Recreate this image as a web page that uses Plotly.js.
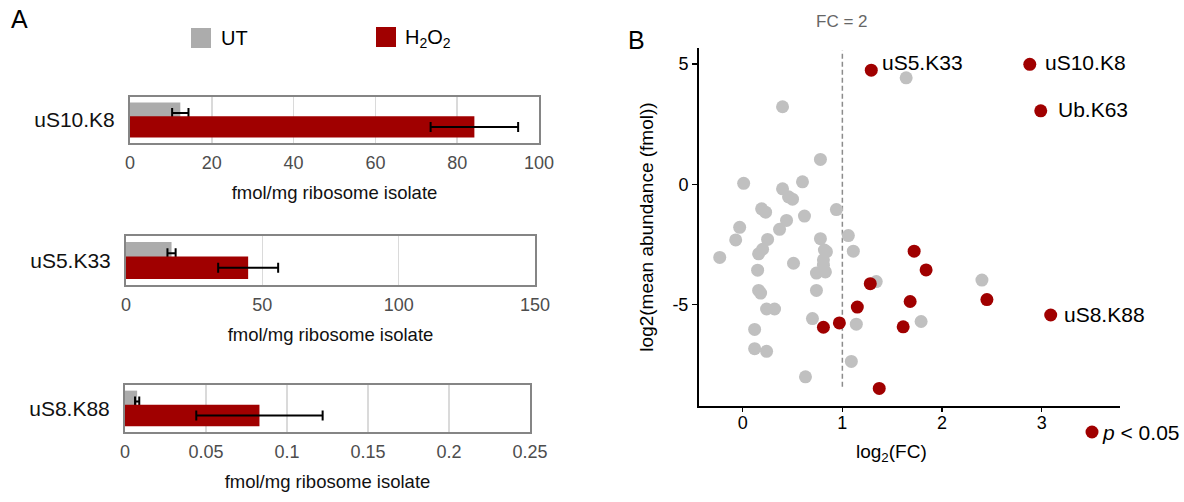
<!DOCTYPE html>
<html>
<head>
<meta charset="utf-8">
<script src="https://cdn.plot.ly/plotly-3.0.1.min.js"></script>
<style>
  html, body { margin: 0; padding: 0; background: #fff; }
  #chart { width: 1184px; height: 502px; }
</style>
</head>
<body>
<div id="chart"></div>
<script>
// ---------------- Panel A data ----------------
const sites      = ['uS10.K8', 'uS5.K33', 'uS8.K88'];
const utMean     = [12.3, 16.7, 0.0075];
const utErr      = [2.0, 1.5, 0.0013];
const h2o2Mean   = [84.2, 44.8, 0.083];
const h2o2Err    = [10.7, 11.0, 0.039];
const axisMax    = [100, 150, 0.25];
const axisStep   = [20, 50, 0.05];
const groupNames = ['UT', 'H<sub>2</sub>O<sub>2</sub>'];

// ---------------- Panel B data ----------------
const grayX = [0.78, 0.01, 0.60, 0.40, 0.46, 0.50, 0.19, 0.23, 0.94, 0.62,
               0.44, -0.03, 0.37, -0.07, 0.25, 0.78, 1.06, 0.20, 0.16, 0.82,
               0.84, 1.11, -0.23, 0.81, 0.51, 0.15, 0.74, 0.83, 1.34, 0.16,
               0.18, 0.74, 0.24, 0.32, 0.70, 1.14, 0.12, 0.12, 0.24, 1.09,
               0.63, 2.40, 1.79, 1.64, 0.40, 0.81];
const grayY = [1.03, 0.04, 0.10, -0.19, -0.52, -0.62, -1.02, -1.16, -1.05, -1.32,
               -1.50, -1.79, -1.87, -2.31, -2.29, -2.26, -2.13, -2.70, -2.89, -2.73,
               -2.80, -2.78, -3.04, -3.14, -3.28, -3.57, -3.69, -3.64, -4.04, -4.41,
               -4.52, -4.41, -5.18, -5.18, -5.58, -5.81, -6.03, -6.83, -6.94, -7.36,
               -8.00, -3.98, -5.70, 4.42, 3.22, -3.36];
const sigX = [1.29, 2.88, 2.99, 3.09, 1.72, 1.84, 1.28, 1.68, 2.45, 1.15, 0.97, 0.81, 1.61, 1.37];
const sigY = [4.74, 4.98, 3.05, -5.43, -2.78, -3.56, -4.13, -4.87, -4.79, -5.10, -5.76, -5.94, -5.92, -8.48];
const sigLabel = ['uS5.K33', 'uS10.K8', 'Ub.K63', 'uS8.K88', '', '', '', '', '', '', '', '', '', ''];
const fcThreshold = 1;  // log2(FC) = 1  ->  FC = 2

// ---------------- Styling ----------------
const FONT = 'Liberation Sans, Arial, Helvetica, sans-serif';
const GRAY_BAR = '#acacac';
const RED = '#a00000';
const GRAY_PT = '#c0c0c0';
const W = 1184, H = 502;
const px = v => v / W;
const py = v => 1 - v / H;

// pixel boxes of the three bar panels [left, right, top, bottom]
const barBoxes = [[130, 539, 97, 143], [126, 535, 236, 285], [125, 530, 385, 432]];
// label nudges (pixels) for the labelled points
const labelNudge = {'uS5.K33': [11, 8], 'uS10.K8': [15, 2], 'Ub.K63': [17, 1], 'uS8.K88': [13, 1]};

const traces = [];
const layout = {
  width: W, height: H,
  margin: {l: 0, r: 0, t: 0, b: 0},
  paper_bgcolor: '#fff', plot_bgcolor: '#fff',
  font: {family: FONT, color: '#000'},
  barmode: 'overlay',
  showlegend: false,
  shapes: [], annotations: []
};

sites.forEach((s, i) => {
  const n = i + 1;
  const xa = 'x' + (n === 1 ? '' : n), ya = 'y' + (n === 1 ? '' : n);
  const b = barBoxes[i];
  traces.push({
    type: 'bar', orientation: 'h', name: 'UT',
    x: [utMean[i]], y: [s], xaxis: xa, yaxis: ya,
    width: 0.46, offset: -0.08,
    marker: {color: GRAY_BAR, line: {width: 0}},
    error_x: {type: 'data', array: [utErr[i]], color: '#000', thickness: 2, width: 5},
    hoverinfo: 'x'
  });
  traces.push({
    type: 'bar', orientation: 'h', name: 'H2O2',
    x: [h2o2Mean[i]], y: [s], xaxis: xa, yaxis: ya,
    width: 0.46, offset: -0.38,
    marker: {color: RED, line: {width: 0}},
    error_x: {type: 'data', array: [h2o2Err[i]], color: '#000', thickness: 2, width: 5},
    hoverinfo: 'x'
  });
  layout['xaxis' + (n === 1 ? '' : n)] = {
    domain: [px(b[0]), px(b[1])], anchor: ya,
    range: [0, axisMax[i]], tick0: 0, dtick: axisStep[i],
    showgrid: true, gridcolor: '#dadada', gridwidth: 1.6, zeroline: false,
    showline: true, mirror: true, linecolor: '#858585', linewidth: 2,
    ticks: 'outside', ticklen: 5, tickcolor: 'rgba(0,0,0,0)',
    ticklabelstandoff: -3,
    tickfont: {family: FONT, size: 18, color: '#4d4d4d'},
    title: {text: 'fmol/mg ribosome isolate', font: {family: FONT, size: 18.5, color: '#111'}, standoff: 14},
    fixedrange: true
  };
  layout['yaxis' + (n === 1 ? '' : n)] = {
    domain: [py(b[3]), py(b[2])], anchor: xa,
    type: 'category', range: [-0.5, 0.5],
    showgrid: false, zeroline: false,
    showline: true, mirror: true, linecolor: '#858585', linewidth: 2,
    ticks: 'outside', ticklen: 9, tickcolor: 'rgba(0,0,0,0)',
    tickfont: {family: FONT, size: 21, color: '#111'},
    fixedrange: true
  };
});

// Scatter panel B
traces.push({
  type: 'scatter', mode: 'markers', x: grayX, y: grayY, xaxis: 'x4', yaxis: 'y4',
  marker: {color: GRAY_PT, size: 13, line: {width: 0}}, hoverinfo: 'x+y'
});
traces.push({
  type: 'scatter', mode: 'markers', x: sigX, y: sigY, xaxis: 'x4', yaxis: 'y4',
  marker: {color: RED, size: 13, line: {width: 0}}, hoverinfo: 'x+y'
});

layout.xaxis4 = {
  domain: [px(699), px(1120)], anchor: 'y4',
  range: [-0.438, 3.785], tickvals: [0, 1, 2, 3],
  showgrid: false, zeroline: false,
  showline: true, linecolor: '#000', linewidth: 2,
  ticks: 'outside', ticklen: 4, tickwidth: 1.5, tickcolor: '#000',
  ticklabelstandoff: -5,
  tickfont: {family: FONT, size: 18, color: '#000'},
  fixedrange: true
};
layout.yaxis4 = {
  domain: [py(406), py(48)], anchor: 'x4',
  range: [-9.21, 5.66], tickvals: [-5, 0, 5], ticktext: ['-5', '0', '5'],
  showgrid: false, zeroline: false,
  showline: true, linecolor: '#000', linewidth: 2,
  ticks: 'outside', ticklen: 5, tickwidth: 1.5, tickcolor: '#000',
  tickfont: {family: FONT, size: 18, color: '#000'},
  title: {text: 'log2(mean abundance (fmol))', font: {family: FONT, size: 19, color: '#000'}, standoff: 14},
  fixedrange: true
};
// x-axis title of panel B (placed as in the reference, slightly left of the axis centre)
layout.annotations.push({
  xref: 'paper', yref: 'paper', x: px(891), y: py(453), text: 'log<sub>2</sub>(FC)',
  showarrow: false, xanchor: 'center', yanchor: 'middle',
  font: {family: FONT, size: 19, color: '#000'}
});

// threshold line
layout.shapes.push({
  type: 'line', xref: 'x4', yref: 'y4', x0: fcThreshold, x1: fcThreshold, y0: -8.41, y1: 5.56,
  line: {color: '#8c8c8c', width: 1.5, dash: '5px,3px'}, layer: 'below'
});
layout.annotations.push({
  xref: 'x4', yref: 'paper', x: fcThreshold, y: py(22), text: 'FC = 2',
  showarrow: false, xanchor: 'center', yanchor: 'middle',
  font: {family: FONT, size: 17, color: '#666'}
});

// point labels
sigLabel.forEach((lab, i) => {
  if (!lab) return;
  const nd = labelNudge[lab] || [14, 1];
  layout.annotations.push({
    xref: 'x4', yref: 'y4', x: sigX[i], y: sigY[i], text: lab,
    showarrow: false, xanchor: 'left', yanchor: 'middle',
    xshift: nd[0] - 2, yshift: nd[1],
    font: {family: FONT, size: 21, color: '#000'}
  });
});

// legend panel A
layout.shapes.push({type: 'rect', xref: 'paper', yref: 'paper',
  x0: px(191), x1: px(211), y0: py(48), y1: py(28), fillcolor: GRAY_BAR, line: {width: 0}});
layout.shapes.push({type: 'rect', xref: 'paper', yref: 'paper',
  x0: px(376), x1: px(396), y0: py(47), y1: py(27), fillcolor: RED, line: {width: 0}});
layout.annotations.push({xref: 'paper', yref: 'paper', x: px(219), y: py(38), text: groupNames[0],
  showarrow: false, xanchor: 'left', yanchor: 'middle', font: {family: FONT, size: 20, color: '#000'}});
layout.annotations.push({xref: 'paper', yref: 'paper', x: px(403), y: py(38), text: groupNames[1],
  showarrow: false, xanchor: 'left', yanchor: 'middle', font: {family: FONT, size: 20, color: '#000'}});

// legend panel B
layout.shapes.push({type: 'circle', xref: 'paper', yref: 'paper', xsizemode: 'pixel', ysizemode: 'pixel',
  xanchor: px(1092), yanchor: py(432), x0: -6.5, x1: 6.5, y0: -6.5, y1: 6.5,
  fillcolor: RED, line: {width: 0}});
layout.annotations.push({xref: 'paper', yref: 'paper', x: px(1100), y: py(432), text: '<i>p</i> < 0.05',
  showarrow: false, xanchor: 'left', yanchor: 'middle', font: {family: FONT, size: 21, color: '#000'}});

// panel letters
layout.annotations.push({xref: 'paper', yref: 'paper', x: px(19), y: py(19), text: 'A',
  showarrow: false, xanchor: 'center', yanchor: 'middle', font: {family: FONT, size: 25, color: '#000'}});
layout.annotations.push({xref: 'paper', yref: 'paper', x: px(636), y: py(40), text: 'B',
  showarrow: false, xanchor: 'center', yanchor: 'middle', font: {family: FONT, size: 25, color: '#000'}});

Plotly.newPlot('chart', traces, layout, {displayModeBar: false, staticPlot: true});
</script>
</body>
</html>
